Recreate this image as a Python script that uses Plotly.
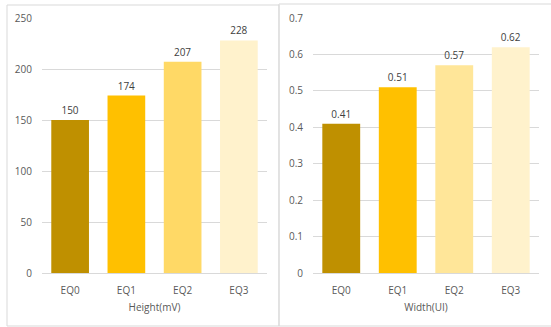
import plotly.graph_objects as go

categories = ["EQ0", "EQ1", "EQ2", "EQ3"]
height_mv = [150, 174, 207, 228]
width_ui = [0.41, 0.51, 0.57, 0.62]
height_colors = ["#BF9000", "#FFC000", "#FFD966", "#FFF2CC"]
width_colors = ["#BF9000", "#FFC000", "#FFE699", "#FFF2CC"]
height_ticks = [0, 50, 100, 150, 200, 250]
width_ticks = [0, 0.1, 0.2, 0.3, 0.4, 0.5, 0.6, 0.7]

W, H = 551, 327
FS = 10
font = dict(family="Open Sans, Liberation Sans, sans-serif", size=FS, color="#595959")

fig = go.Figure()
fig.add_trace(go.Bar(x=categories, y=height_mv, marker=dict(color=height_colors, line=dict(width=0)),
                     text=[str(v) for v in height_mv], textposition="outside",
                     textfont=dict(size=FS, color="#404040"), cliponaxis=False,
                     xaxis="x", yaxis="y"))
fig.add_trace(go.Bar(x=categories, y=width_ui, marker=dict(color=width_colors, line=dict(width=0)),
                     text=[f"{v:.2f}" for v in width_ui], textposition="outside",
                     textfont=dict(size=FS, color="#404040"), cliponaxis=False,
                     xaxis="x2", yaxis="y2"))

ydom = [(H - 273) / H, (H - 18) / H]
common_x = dict(showgrid=False, zeroline=False, showline=False, automargin=False,
                ticks="outside", ticklen=8, tickcolor="rgba(0,0,0,0)",
                tickfont=dict(size=FS, color="#595959"))
common_y = dict(showgrid=True, gridcolor="#D9D9D9", gridwidth=1, zeroline=True,
                zerolinecolor="#D9D9D9", zerolinewidth=1, showline=False, automargin=False,
                ticks="outside", ticklen=7, tickcolor="rgba(0,0,0,0)",
                tickfont=dict(size=FS, color="#595959"))

fig.update_layout(
    width=W, height=H,
    margin=dict(l=0, r=0, t=0, b=0),
    paper_bgcolor="white", plot_bgcolor="white",
    font=font, showlegend=False, bargap=0.33,
    xaxis=dict(domain=[42 / W, 267 / W], anchor="y",
               title=dict(text="Height(mV)", font=dict(size=FS, color="#595959"), standoff=7),
               **common_x),
    yaxis=dict(domain=ydom, anchor="x", range=[0, 250], tickvals=height_ticks, **common_y),
    xaxis2=dict(domain=[313 / W, 539 / W], anchor="y2",
                title=dict(text="Width(UI)", font=dict(size=FS, color="#595959"), standoff=7),
                **common_x),
    yaxis2=dict(domain=ydom, anchor="x2", range=[0, 0.7], tickvals=width_ticks, **common_y),
    shapes=[
        dict(type="rect", xref="paper", yref="paper",
             x0=7 / W, x1=279 / W, y0=(H - 326) / H, y1=(H - 5) / H,
             line=dict(color="#D9D9D9", width=1), fillcolor="rgba(0,0,0,0)"),
        dict(type="rect", xref="paper", yref="paper",
             x0=279 / W, x1=552 / W, y0=(H - 326) / H, y1=(H - 4) / H,
             line=dict(color="#D9D9D9", width=1), fillcolor="rgba(0,0,0,0)"),
    ],
)

fig.write_html("out.html")
